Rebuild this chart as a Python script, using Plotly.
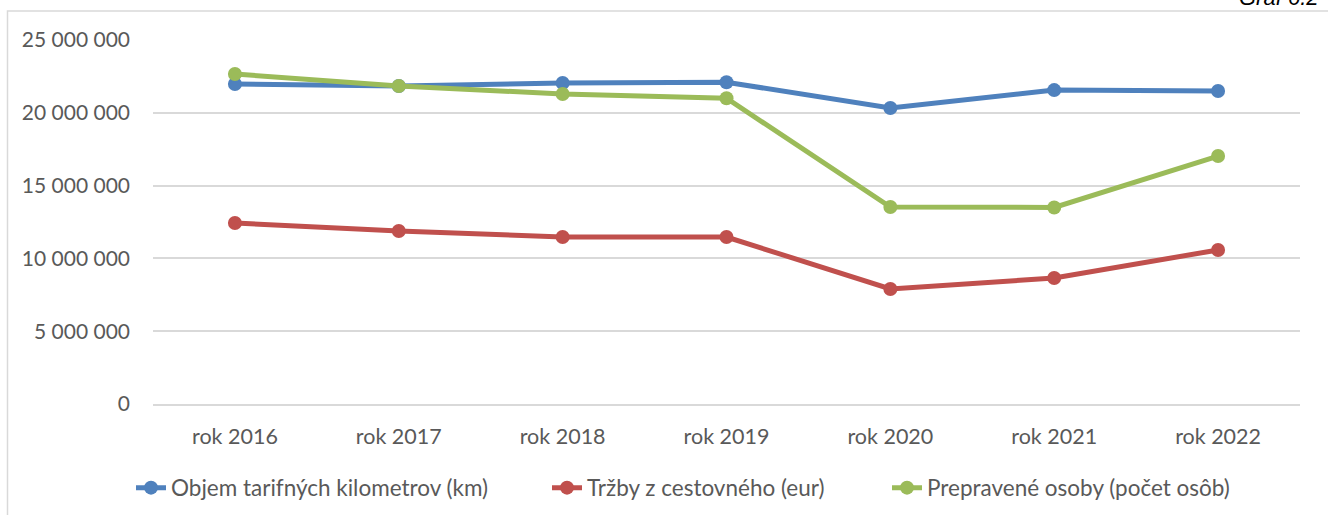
import plotly.graph_objects as go

categories = ["rok 2016", "rok 2017", "rok 2018", "rok 2019", "rok 2020", "rok 2021", "rok 2022"]
km = [21980000, 21840000, 22050000, 22100000, 20330000, 21560000, 21500000]
trzby = [12430000, 11880000, 11470000, 11470000, 7900000, 8650000, 10580000]
osoby = [22660000, 21840000, 21290000, 21000000, 13530000, 13500000, 17030000]
names = ["Objem tarifných kilometrov (km)", "Tržby z cestovného (eur)", "Prepravené osoby (počet osôb)"]
colors = ["#4f81bd", "#c0504d", "#9bbb59"]
y_ticks = [0, 5000000, 10000000, 15000000, 20000000, 25000000]

L, R, T, B = 153, 28, 40, 111
W, H = 1328, 515
pw, ph = W - L - R, H - T - B

def px_x(p):
    return (p - L) / pw

def px_y(p):
    return (H - B - p) / ph

legend_ids = ["legend", "legend2", "legend3"]
legend_x = [131, 547, 887]

fig = go.Figure()
for vals, name, col, lid in zip([km, trzby, osoby], names, colors, legend_ids):
    fig.add_trace(go.Scatter(
        x=categories, y=vals, name=name, mode="lines+markers",
        line=dict(color=col, width=5),
        marker=dict(color=col, size=14),
        legend=lid,
    ))

legend_common = dict(orientation="h", yanchor="middle", xanchor="left",
                      font=dict(size=22.5, color="#595959"), bgcolor="rgba(0,0,0,0)")
legends = {}
for lid, lx in zip(legend_ids, legend_x):
    legends[lid] = dict(legend_common, x=px_x(lx), y=px_y(488))

fig.update_layout(
    width=W, height=H,
    margin=dict(l=L, r=R, t=T, b=B, autoexpand=False),
    paper_bgcolor="white", plot_bgcolor="white",
    font=dict(family="Lato", size=21, color="#595959"),
    separators=", ",
    showlegend=True,
    xaxis=dict(type="category", showgrid=False, showline=True, linecolor="#d9d9d9", linewidth=1.5,
               ticks="", ticklabelstandoff=12, tickfont=dict(size=21.5, color="#595959"),
               range=[-0.5, 6.5], fixedrange=True),
    yaxis=dict(range=[0, 25000000], tickvals=y_ticks, tickformat=",d", showgrid=True,
               gridcolor="#d9d9d9", gridwidth=1.5, zeroline=False, showline=False,
               ticks="", ticklabelstandoff=22, tickfont=dict(size=21, color="#595959")),
    shapes=[dict(type="rect", xref="paper", yref="paper",
                 x0=px_x(7.5), x1=px_x(1340), y0=px_y(530), y1=px_y(11),
                 line=dict(color="#d9d9d9", width=1.5), fillcolor="rgba(0,0,0,0)", layer="below")],
    annotations=[dict(text="<i>Graf 6.2</i>", xref="paper", yref="paper",
                      x=px_x(1320), y=px_y(12), xanchor="right", yanchor="bottom",
                      showarrow=False, font=dict(family="Liberation Sans", size=22, color="#000000"))],
    **legends,
)

fig.write_html("out.html",
               config={"displayModeBar": False},
               post_script="document.body.style.margin='0';document.body.style.overflow='hidden';")
